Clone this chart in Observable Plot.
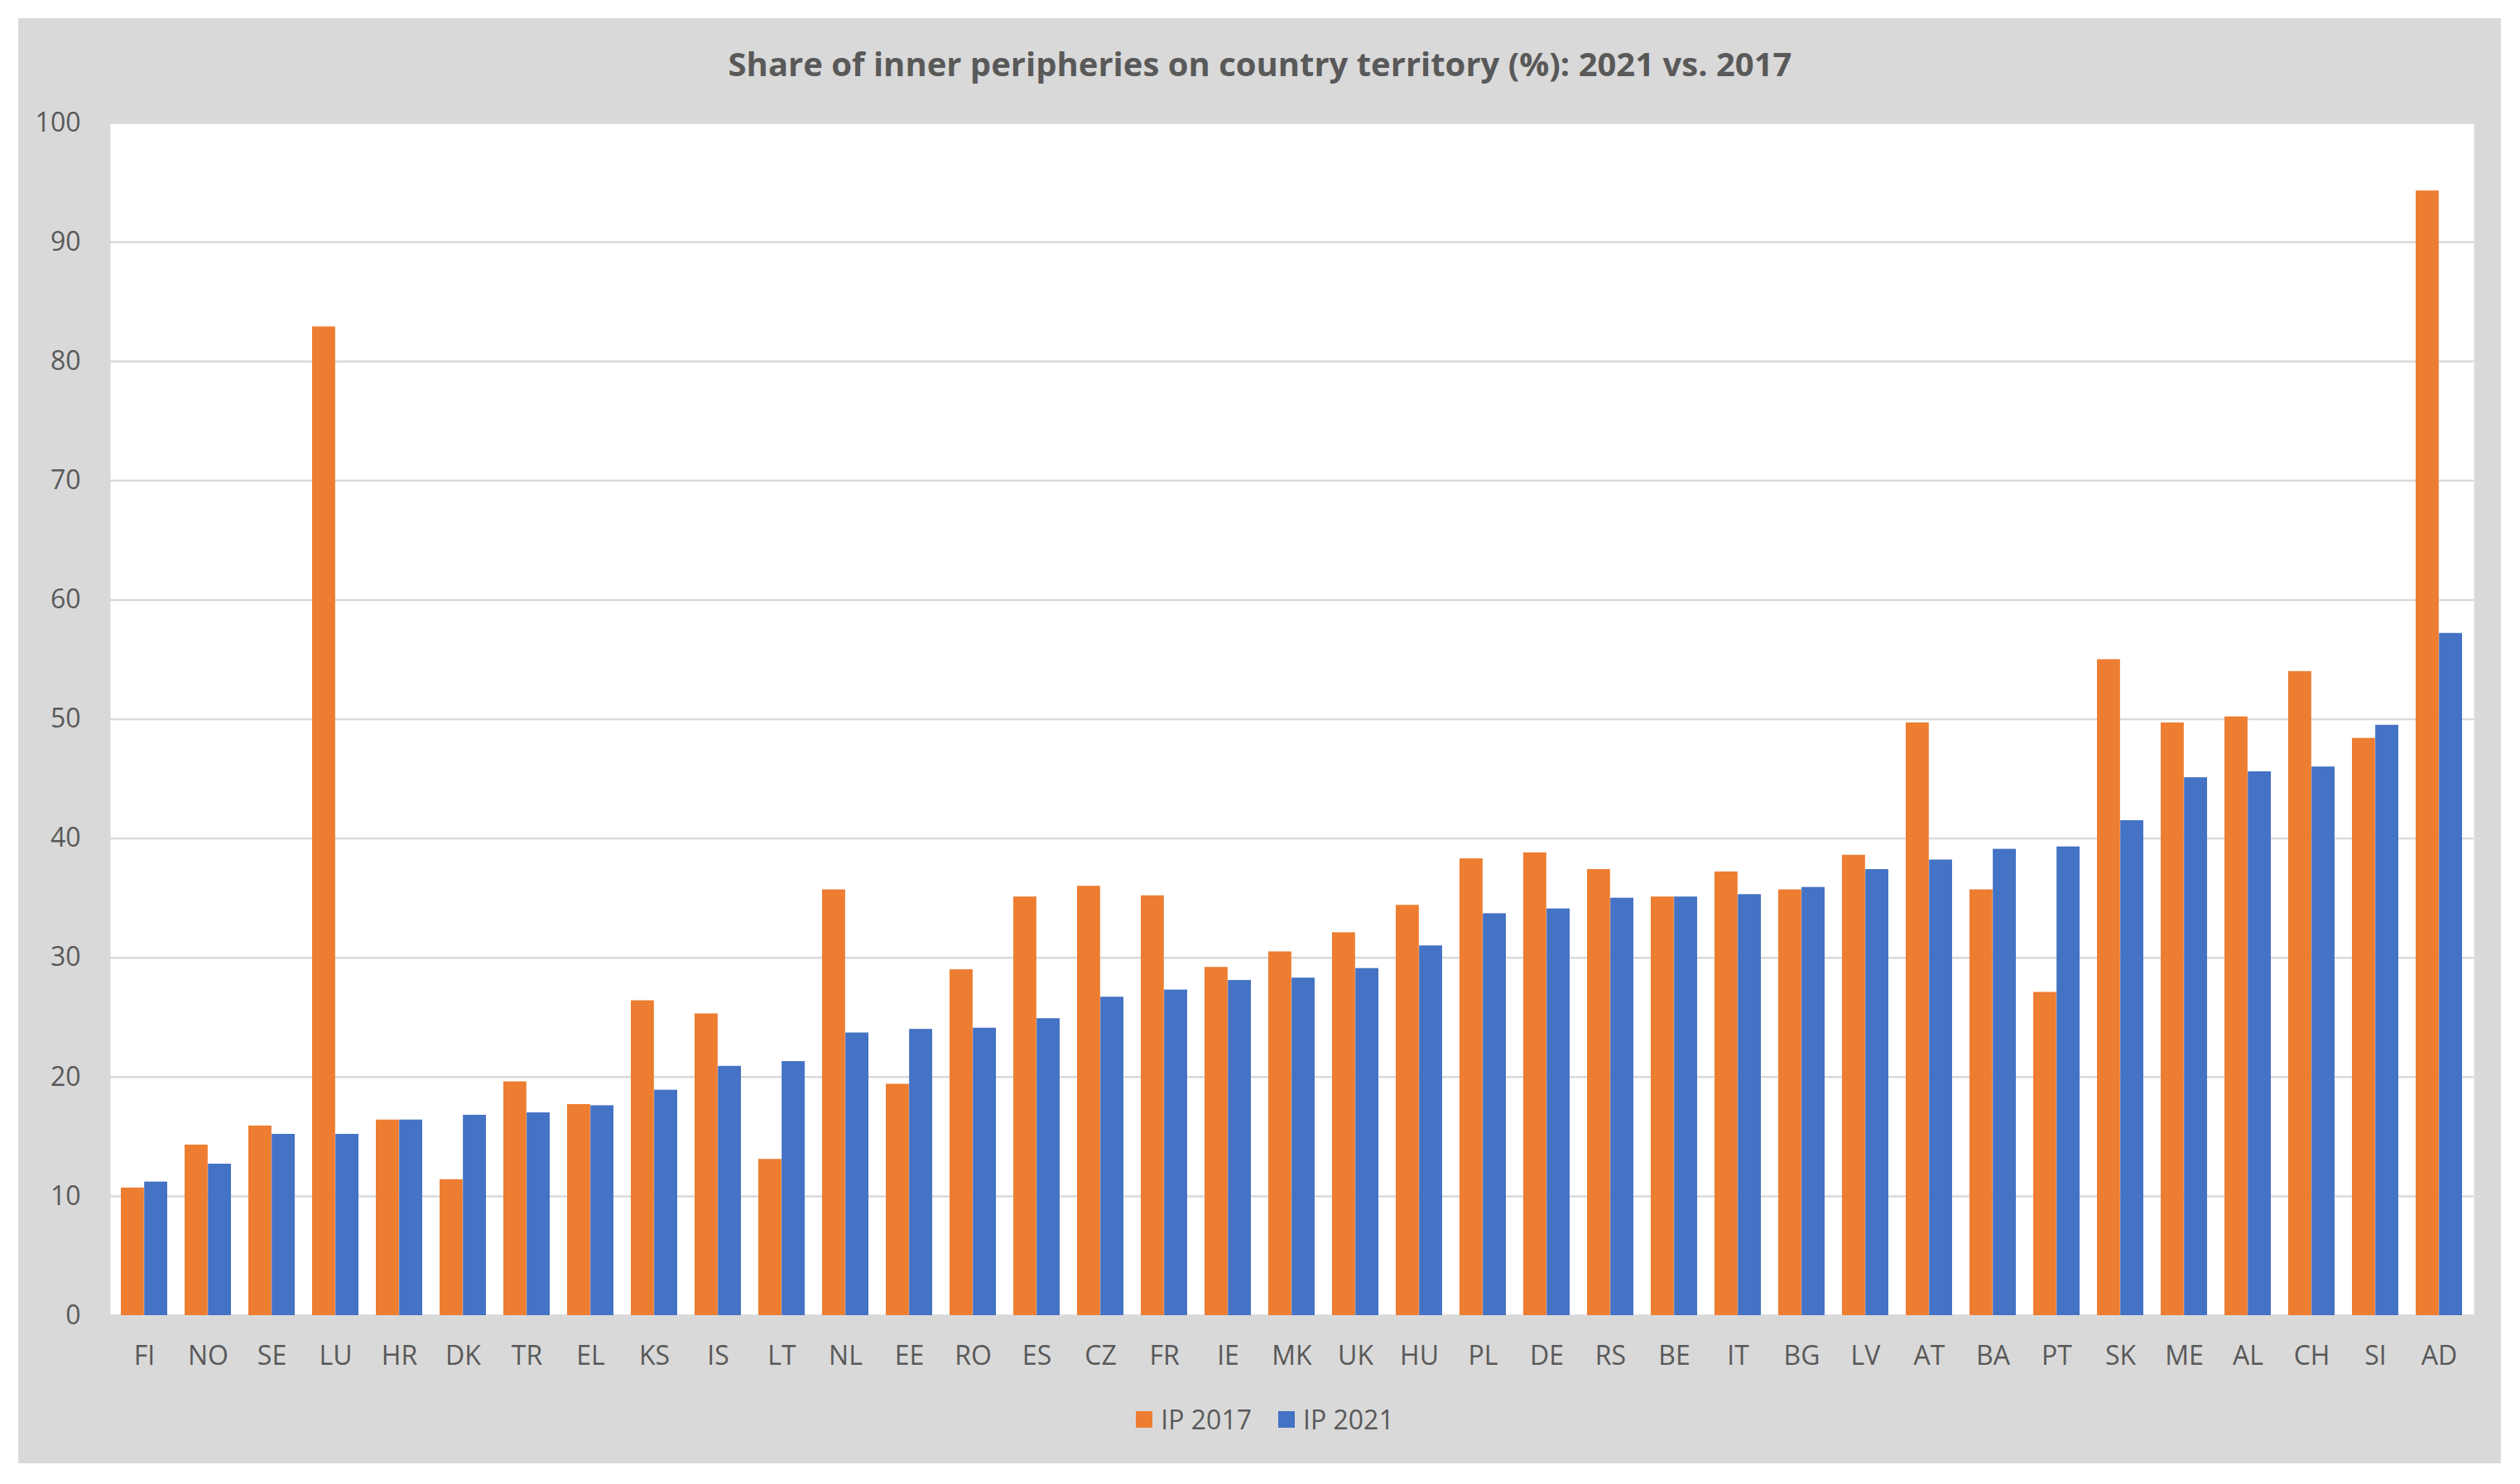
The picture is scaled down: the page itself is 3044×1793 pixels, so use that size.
<!DOCTYPE html>
<html>
<head>
<meta charset="utf-8">
<script src="https://cdn.jsdelivr.net/npm/d3@7"></script>
<script src="https://cdn.jsdelivr.net/npm/@observablehq/plot@0.6"></script>
<style>
  html, body { margin: 0; padding: 0; background: #ffffff; }
  body { width: 3044px; height: 1793px; position: relative; overflow: hidden;
         font-family: "Open Sans", sans-serif; color: #595959; }
  #panel { position: absolute; left: 22px; top: 22px; width: 2999px; height: 1746px; background: #d9d9d9; }
  #title { position: absolute; left: 0; top: 53px; width: 3044px; text-align: center;
           font-size: 40px; font-weight: bold; color: #595959; line-height: 48px; }
  #chart { position: absolute; left: 0; top: 0; }
  #legend { position: absolute; left: 0; top: 1695px; width: 3056px; display: flex; justify-content: center;
            align-items: center; font-size: 32px; color: #595959; line-height: 40px; }
  .item { display: flex; align-items: center; margin: 0 16px; }
  .sw { width: 20px; height: 20px; margin-right: 10px; }
</style>
</head>
<body>
<div id="panel"></div>
<div id="title">Share of inner peripheries on country territory (%): 2021 vs. 2017</div>
<div id="chart"></div>
<div id="legend"></div>
<script>
const countries = ["FI","NO","SE","LU","HR","DK","TR","EL","KS","IS","LT","NL","EE","RO","ES","CZ","FR","IE","MK","UK","HU","PL","DE","RS","BE","IT","BG","LV","AT","BA","PT","SK","ME","AL","CH","SI","AD"];
const ip2017 = [10.7,14.3,15.9,82.9,16.4,11.4,19.6,17.7,26.4,25.3,13.1,35.7,19.4,29.0,35.1,36.0,35.2,29.2,30.5,32.1,34.4,38.3,38.8,37.4,35.1,37.2,35.7,38.6,49.7,35.7,27.1,55.0,49.7,50.2,54.0,48.4,94.3];
const ip2021 = [11.2,12.7,15.2,15.2,16.4,16.8,17.0,17.6,18.9,20.9,21.3,23.7,24.0,24.1,24.9,26.7,27.3,28.1,28.3,29.1,31.0,33.7,34.1,35.0,35.1,35.3,35.9,37.4,38.2,39.1,39.3,41.5,45.1,45.6,46.0,49.5,57.2];
const yTicks = [0,10,20,30,40,50,60,70,80,90,100];
const seriesNames = ["IP 2017","IP 2021"];
const seriesColors = ["#ED7D31","#4472C4"];

const rows = countries.map((c, i) => ({country: c, v17: ip2017[i], v21: ip2021[i]}));

const W = 3044, H = 1700;
const mL = 133, mR = 56, mT = 148, mB = 111;
const pIn = 0.27, pOut = 0.135;
const step = (W - mL - mR) / (countries.length - pIn + 2 * pOut);
const half = step * (1 - pIn) / 2;
const font = '"Open Sans", sans-serif';

const chart = Plot.plot({
  width: W, height: H,
  marginLeft: mL, marginRight: mR, marginTop: mT, marginBottom: mB,
  style: {background: "transparent", fontFamily: font, fontSize: "32px", color: "#595959"},
  x: {domain: countries, paddingInner: pIn, paddingOuter: pOut, label: null},
  y: {domain: [0, 100], label: null},
  marks: [
    Plot.frame({fill: "white", stroke: null}),
    Plot.ruleY(yTicks, {stroke: "#d9d9d9", strokeWidth: 2.5}),
    Plot.barY(rows, {x: "country", y: "v17", fill: seriesColors[0], insetLeft: 0, insetRight: half}),
    Plot.barY(rows, {x: "country", y: "v21", fill: seriesColors[1], insetLeft: half, insetRight: 0}),
    Plot.axisY({ticks: yTicks, tickSize: 0, tickPadding: 36, fontSize: 32, fill: "#595959", label: null}),
    Plot.axisX({tickSize: 0, tickPadding: 37, fontSize: 32, fill: "#595959", label: null})
  ]
});
document.getElementById("chart").appendChild(chart);

const legend = document.getElementById("legend");
seriesNames.forEach((n, i) => {
  const it = document.createElement("div");
  it.className = "item";
  const sw = document.createElement("div");
  sw.className = "sw";
  sw.style.background = seriesColors[i];
  const t = document.createElement("span");
  t.textContent = n;
  it.appendChild(sw); it.appendChild(t);
  legend.appendChild(it);
});
</script>
</body>
</html>
